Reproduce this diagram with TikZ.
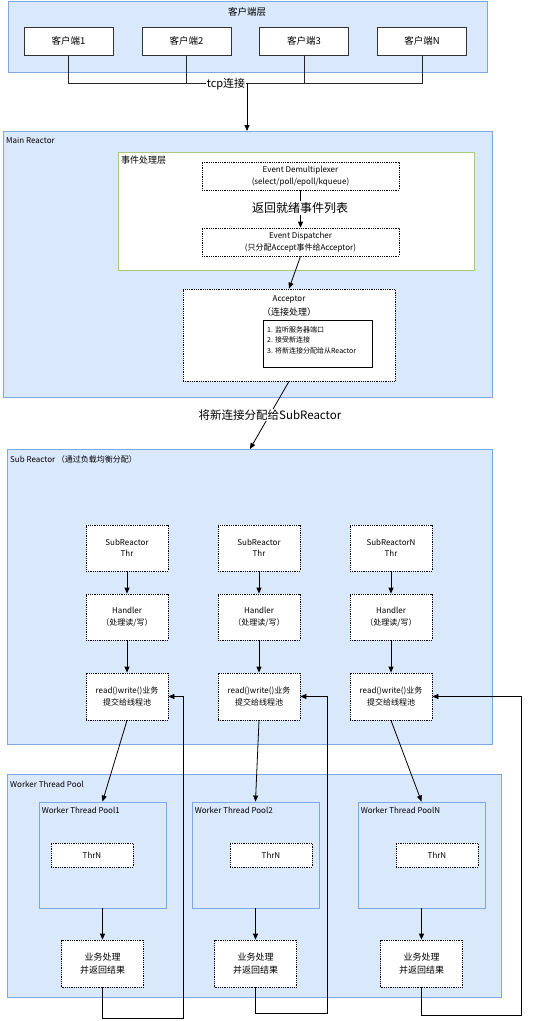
\documentclass[tikz,border=0pt]{standalone}
\usepackage{fontspec}
\setmainfont{Noto Sans CJK SC}
\usetikzlibrary{arrows.meta,positioning,calc}

\definecolor{layerfill}{HTML}{DAE8FC}
\definecolor{layerline}{HTML}{7EA6E0}
\definecolor{evline}{HTML}{A9C97D}

\tikzset{
  layer/.style={draw=layerline, fill=layerfill, line width=0.9pt, anchor=north west, inner sep=0pt},
  client/.style={draw=black!80, fill=white, line width=0.8pt, minimum width=89pt, minimum height=28pt, inner sep=0pt, font=\fontsize{9.5}{11}\selectfont},
  dotbox/.style={draw, densely dotted, fill=white, line width=0.8pt, inner sep=0pt, align=center, font=\fontsize{8}{11.5}\selectfont},
  ttl/.style={anchor=west, inner sep=0pt, font=\fontsize{8}{10}\selectfont},
  arr/.style={-{Triangle[length=6pt,width=5pt]}, line width=0.8pt},
  wire/.style={line width=0.8pt, black!85}
}

\begin{document}
\begin{tikzpicture}[x=1pt, y=-1pt]
  \useasboundingbox (0,0) rectangle (559,1021);

  % --- client layer ---
  \node[layer, minimum width=479pt, minimum height=71pt] (clayer) at (8,1) {};
  \node[font=\fontsize{9.5}{11}\selectfont, inner sep=0pt] (clabel) at (247,12) {客户端层};
  \node[client] (c1) at (68.5,41) {客户端1};
  \node[client] (c2) at (186.5,41) {客户端2};
  \node[client] (c3) at (304,41) {客户端3};
  \node[client] (c4) at (422,41) {客户端N};

  \coordinate (tcpout) at (247,83);
  \foreach \c in {c1,c2,c3,c4}
    \draw[wire] (\c.south) |- (tcpout);
  \node[fill=white, inner sep=0.5pt, font=\fontsize{11}{12}\selectfont] (tcp) at (226,84) {tcp连接};

  % --- main reactor ---
  \node[layer, minimum width=489pt, minimum height=266pt] (mainr) at (3,131) {};
  \node[ttl] (mainlbl) at (6,140) {Main Reactor};
  \draw[arr] (tcpout) -- (tcpout |- mainr.north);

  % event layer
  \node[draw=evline, fill=white, line width=0.9pt, anchor=north west, inner sep=0pt,
        minimum width=356pt, minimum height=118pt] (evl) at (118,152) {};
  \node[ttl, font=\fontsize{9}{10}\selectfont] (evlbl) at (121,160) {事件处理层};
  \node[dotbox, minimum width=197pt, minimum height=28pt] (demux) at (300.5,176)
       {Event Demultiplexer\\(select/poll/epoll/kqueue)};
  \node[dotbox, minimum width=197pt, minimum height=28pt] (disp) at (300.5,242)
       {Event Dispatcher\\(只分配Accept事件给Acceptor)};
  \draw[arr] (demux.south) -- (disp.north);
  \node[fill=white, inner sep=1pt, font=\fontsize{12}{13}\selectfont] (ready) at (300,208) {返回就绪事件列表};

  % acceptor
  \node[dotbox, minimum width=212pt, minimum height=92pt] (acc) at (289,335) {};
  \node[inner sep=0pt, font=\fontsize{8}{10}\selectfont] (acct) at (289,299) {Acceptor};
  \node[inner sep=0pt, font=\fontsize{9}{10}\selectfont] (accs) at (289,312) {（连接处理）};
  \node[draw, line width=0.8pt, fill=white, minimum width=109pt, minimum height=47pt, inner sep=0pt] (accl) at (317.5,343.5) {};
  \node[anchor=north west, inner sep=0pt, align=left, font=\fontsize{7}{10.5}\selectfont] (acctxt) at (267,326)
       {1. 监听服务器端口\\2. 接受新连接\\3. 将新连接分配给从Reactor};
  \draw[arr] (disp.south) -- (acc.north);

  % --- sub reactor ---
  \node[layer, minimum width=485pt, minimum height=295pt] (subr) at (7,449) {};
  \node[ttl] (sublbl) at (10,459) {Sub Reactor （通过负载均衡分配）};
  \draw[arr] (acc.south) -- (subr.north);
  \node[fill=white, inner sep=1pt, font=\fontsize{11.5}{12}\selectfont] (newconn) at (270,415) {将新连接分配给SubReactor};

  \foreach \i/\x/\n in {1/127/SubReactor, 2/259/SubReactor, 3/391/SubReactorN} {
    \node[dotbox, minimum width=82pt, minimum height=46pt] (thr\i) at (\x,548) {\n\\Thr};
    \node[dotbox, minimum width=82pt, minimum height=46pt] (hdl\i) at (\x,617) {Handler\\（处理读/写）};
    \node[dotbox, minimum width=82pt, minimum height=47pt] (rw\i) at (\x,696.5) {read()write()业务\\提交给线程池};
    \draw[arr] (thr\i.south) -- (hdl\i.north);
    \draw[arr] (hdl\i.south) -- (rw\i.north);
  }

  % --- worker thread pool ---
  \node[layer, minimum width=494pt, minimum height=223pt] (wtp) at (7,774) {};
  \node[ttl] (wtplbl) at (10,784) {Worker Thread Pool};

  \foreach \i/\x/\t/\n in {1/102.5/92/1, 2/255.5/271/2, 3/421.5/437/N} {
    \node[layer, anchor=center, minimum width=127pt, minimum height=106pt] (pool\i) at (\x,855) {};
    \node[ttl] (plbl\i) at ($(pool\i.north west)+(3,9)$) {Worker Thread Pool\n};
    \node[dotbox, minimum width=82pt, minimum height=24pt] (thrn\i) at (\t,855) {ThrN};
    \node[dotbox, minimum width=82pt, minimum height=47pt, font=\fontsize{9}{12.5}\selectfont] (biz\i) at (\x,963.5) {业务处理\\并返回结果};
    \draw[arr] (rw\i.south) -- (pool\i.north);
    \draw[arr] (pool\i.south) -- (biz\i.north);
  }

  % results back to the sub reactors
  \foreach \i/\d/\r in {1/31/15, 2/26/27, 3/28/89}
    \draw[arr] (biz\i.south) -- ++(0,\d) -| ($(rw\i.east)+(\r,0)$) -- (rw\i.east);
\end{tikzpicture}
\end{document}
